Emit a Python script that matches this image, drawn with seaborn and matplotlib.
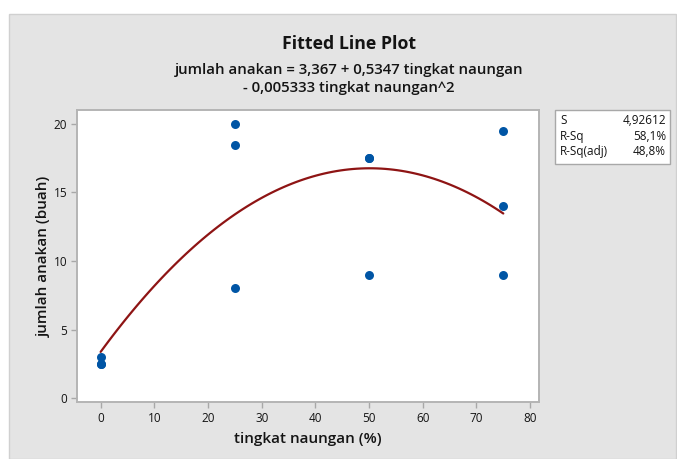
import matplotlib
matplotlib.use("Agg")
import matplotlib.pyplot as plt
import seaborn as sns
import pandas as pd
from matplotlib.patches import Rectangle

# ---- data ----
shade = [0, 0, 0, 25, 25, 25, 50, 50, 50, 75, 75, 75]
tillers = [3, 2.5, 2.5, 20, 18.5, 8, 17.5, 17.5, 9, 19.5, 14, 9]
x_ticks = [0, 10, 20, 30, 40, 50, 60, 70, 80]
y_ticks = [0, 5, 10, 15, 20]
stat_names = ["S", "R-Sq", "R-Sq(adj)"]
stat_values = ["4,92612", "58,1%", "48,8%"]
title = "Fitted Line Plot"
subtitle = "jumlah anakan = 3,367 + 0,5347 tingkat naungan\n- 0,005333 tingkat naungan^2"
x_label = "tingkat naungan (%)"
y_label = "jumlah anakan (buah)"

df = pd.DataFrame({"x": shade, "y": tillers})

sns.set_theme(style="white")
plt.rcParams["font.family"] = ["Open Sans", "DejaVu Sans"]

W, H = 677, 459
fig = plt.figure(figsize=(W / 100, H / 100), dpi=100)
fig.patch.set_facecolor("white")
# gray panel
fig.patches.append(Rectangle((9 / W, 0), 1 - 10 / W, (H - 14) / H, transform=fig.transFigure,
                             facecolor="#E4E4E4", edgecolor="#D0D0D0", linewidth=1, zorder=-5))

ax = fig.add_axes([77 / W, (H - 402) / H, 462 / W, 292 / H])
ax.set_zorder(1)
ax.set_facecolor("white")

sns.regplot(data=df, x="x", y="y", order=2, ci=None, scatter=False, truncate=True,
            color="#8E1414", line_kws={"linewidth": 1.6}, ax=ax)
sns.scatterplot(data=df, x="x", y="y", color="#0055A5", s=42, edgecolor="#0055A5",
                linewidth=0, ax=ax, zorder=3)

ax.set_xlim(-4.4, 81.65)
ax.set_ylim(-0.29, 21.02)
ax.set_xticks(x_ticks)
ax.set_yticks(y_ticks)
ax.tick_params(axis="both", direction="out", length=4, width=1, color="#A8A8A8",
               labelsize=8.5, labelcolor="#141414", pad=3, bottom=True, left=True)
for lbl in ax.get_xticklabels() + ax.get_yticklabels():
    lbl.set_fontweight("medium")
for sp in ax.spines.values():
    sp.set_color("#B4B4B4")
    sp.set_linewidth(1.4)

ax.set_xlabel(x_label, fontsize=11, fontweight="semibold", color="#141414", labelpad=5)
ax.set_ylabel(y_label, fontsize=11, fontweight="semibold", color="#141414", labelpad=2)

fig.text(349 / W, 1 - 44 / H, title, ha="center", va="center", fontsize=12.8,
         fontweight="bold", color="#141414")
fig.text(349 / W, 1 - 79 / H, subtitle, ha="center", va="center", fontsize=10.8,
         fontweight="semibold", color="#141414", linespacing=1.4)

# stats box
fig.patches.append(Rectangle((555 / W, 1 - 164 / H), 115 / W, 54 / H, transform=fig.transFigure,
                             facecolor="white", edgecolor="#A8A8A8", linewidth=1, zorder=1))
for i, (n, v) in enumerate(zip(stat_names, stat_values)):
    yy = 1 - (121 + i * 15.3) / H
    fig.text(560 / W, yy, n, ha="left", va="center", fontsize=8.5, color="#141414", zorder=2)
    fig.text(666 / W, yy, v, ha="right", va="center", fontsize=8.5, color="#141414", zorder=2)

fig.savefig("out.png", dpi=100)
